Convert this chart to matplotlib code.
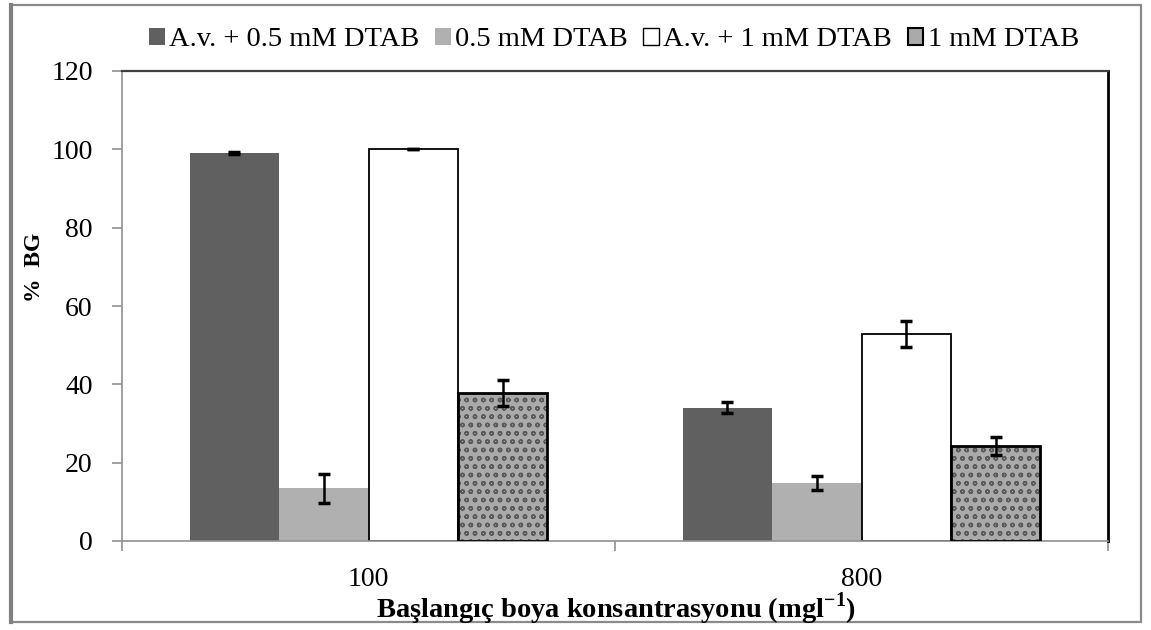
import numpy as np
import matplotlib
matplotlib.use('Agg')
import matplotlib.pyplot as plt
from matplotlib.patches import Rectangle
from matplotlib.lines import Line2D

# data
categories = ['100', '800']
series = ['A.v. + 0.5 mM DTAB', '0.5 mM DTAB', 'A.v. + 1 mM DTAB', '1 mM DTAB']
av_05 = [99.0, 34.0]
av_05_err = [0.3, 1.4]
dtab_05 = [13.5, 14.8]
dtab_05_err = [3.7, 1.8]
av_1 = [100.0, 52.8]
av_1_err = [0.0, 3.3]
dtab_1 = [37.8, 24.3]
dtab_1_err = [3.4, 2.3]

plt.rcParams['font.family'] = ['Liberation Serif', 'DejaVu Serif']

W, H = 1151, 630
fig = plt.figure(figsize=(W / 100, H / 100), dpi=100)
ax = fig.add_axes([122 / W, 1 - 541 / H, (1108 - 122) / W, (541 - 71) / H])

x = np.arange(len(categories))
w = 0.1815
vals = [av_05, dtab_05, av_1, dtab_1]
errs = [av_05_err, dtab_05_err, av_1_err, dtab_1_err]
offs = [-1.5, -0.5, 0.5, 1.5]

ek = dict(ecolor='black', elinewidth=1.8, capsize=4.5, capthick=2.5)
ax.bar(x + offs[0] * w, vals[0], w, color='#606060', linewidth=0, zorder=2)
ax.bar(x + offs[1] * w, vals[1], w, color='#b0b0b0', linewidth=0, zorder=2)
ax.bar(x + offs[2] * w, vals[2], w, color='white', edgecolor='black', linewidth=1.3, zorder=2)
# textured bar: hatch in dark grey on light grey, then black outline on top
ax.bar(x + offs[3] * w, vals[3], w, color='#aaaaaa', edgecolor='#5a5a5a', hatch='oo', linewidth=0, zorder=2)
ax.bar(x + offs[3] * w, vals[3], w, fill=False, edgecolor='black', linewidth=2.0, zorder=3)
for i in range(4):
    ax.errorbar(x + offs[i] * w, vals[i], yerr=errs[i], fmt='none', zorder=4, **ek)

ax.set_xlim(-0.5, 1.5)
ax.set_ylim(0, 120)
ax.set_yticks(np.arange(0, 121, 20))
ax.set_xticks([-0.5, 0.5, 1.5], minor=False)
ax.set_xticklabels([])
ax.set_xticks(x, minor=True)
ax.set_xticklabels(categories, minor=True)
ax.tick_params(axis='x', which='major', length=7, color='#909090', width=1.2, direction='out')
ax.tick_params(axis='x', which='minor', length=0, pad=19, labelsize=20)
ax.tick_params(axis='y', length=7, color='#909090', width=1.2, direction='out', pad=14, labelsize=20)

for s in ['left', 'bottom']:
    ax.spines[s].set_color('#909090')
    ax.spines[s].set_linewidth(1.2)
ax.spines['top'].set_color('#404040')
ax.spines['top'].set_linewidth(1.6)
ax.spines['right'].set_color('black')
ax.spines['right'].set_linewidth(2.0)

# x label: main text plus a small raised "-1" and closing bracket
xl = fig.text(616 / W, 1 - 609 / H, 'Başlangıç boya konsantrasyonu (mgl$^{\\mathregular{-1}}$)',
              ha='center', va='center', fontsize=20.5, fontweight='bold')
fig.text(35 / W, 1 - 267 / H, '%  BG', ha='center', va='center', rotation=90,
         fontsize=17, fontweight='bold')

handles = [
    Rectangle((0, 0), 1, 1, facecolor='#606060', edgecolor='none'),
    Rectangle((0, 0), 1, 1, facecolor='#b0b0b0', edgecolor='none'),
    Rectangle((0, 0), 1, 1, facecolor='white', edgecolor='black', linewidth=1.0),
    Rectangle((0, 0), 1, 1, facecolor='#aaaaaa', edgecolor='black', linewidth=1.5),
]
fig.legend(handles, series, loc='center', bbox_to_anchor=(614 / W, 1 - 40 / H), ncol=4,
           frameon=False, fontsize=20.5, handlelength=0.55, handleheight=0.55,
           handletextpad=0.15, columnspacing=0.55, borderaxespad=0)

# outer chart frame
fig.patches.append(Rectangle((11 / W, 1 - 622 / H), (1141 - 11) / W, (622 - 5) / H,
                             transform=fig.transFigure, fill=False, edgecolor='#8a8a8a',
                             linewidth=1.6))
fig.add_artist(Line2D([11 / W, 11 / W], [1 - 622 / H, 1 - 5 / H], transform=fig.transFigure,
                      color='#808080', linewidth=3))

fig.savefig('out.png', dpi=100)
